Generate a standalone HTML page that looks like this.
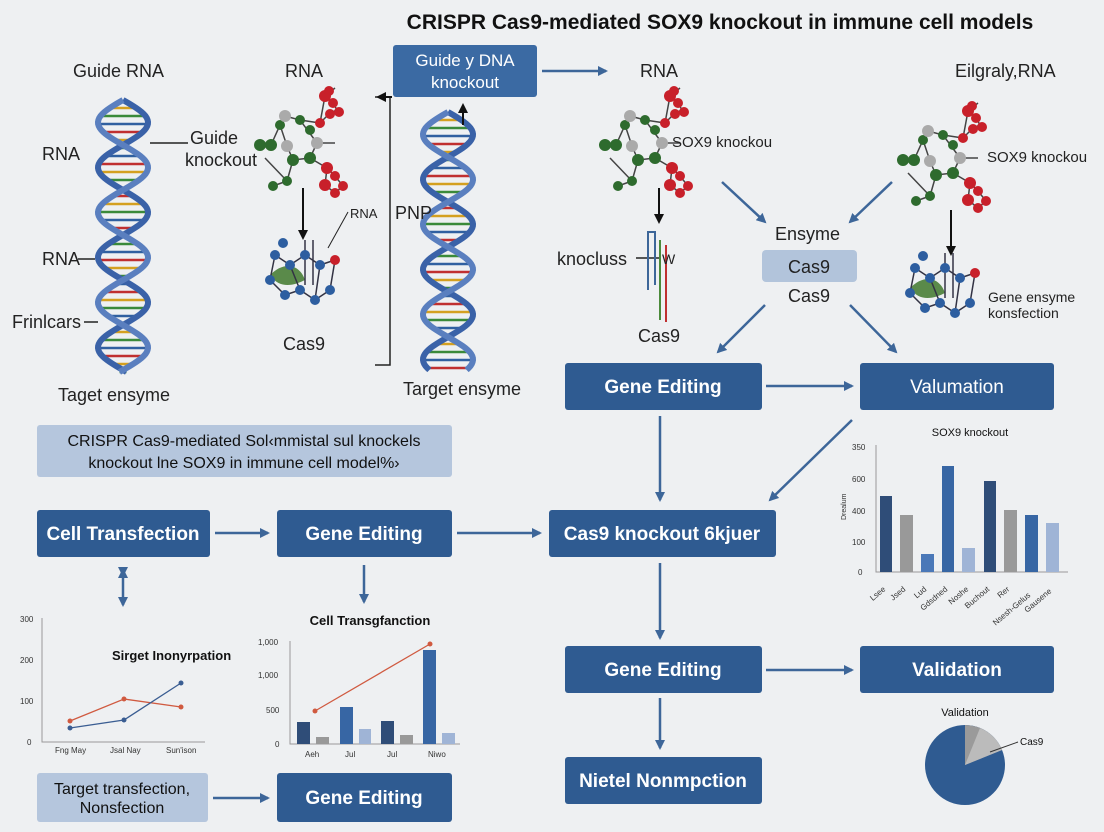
<!DOCTYPE html>
<html><head><meta charset="utf-8"><style>
html,body{margin:0;padding:0;background:#eef0f2;}
svg{display:block;font-family:"Liberation Sans",sans-serif;}
.bx{fill:#2f5b91;}
.bt{fill:#fff;font-weight:bold;font-size:19px;text-anchor:middle;}
.t{fill:#222;font-size:18px;}
.ar{stroke:#3d6699;stroke-width:2.5;fill:none;marker-end:url(#ah);}
.ak{stroke:#111;stroke-width:2;fill:none;marker-end:url(#ak);}
.sm{font-size:8px;fill:#333;}
</style></head><body>
<svg width="1104" height="832" viewBox="0 0 1104 832" xmlns="http://www.w3.org/2000/svg">
<defs>
<marker id="ah" markerWidth="10" markerHeight="10" refX="8" refY="5" orient="auto" markerUnits="userSpaceOnUse"><path d="M0,0 L10,5 L0,10 z" fill="#3d6699"/></marker>
<marker id="ak" markerWidth="10" markerHeight="10" refX="8" refY="5" orient="auto" markerUnits="userSpaceOnUse"><path d="M0,0 L10,5 L0,10 z" fill="#111"/></marker>
<g id="mol">
<g stroke="#444" stroke-width="1.5" fill="none">
<path d="M-25,57 L-14,57 L-5,37 L0,28 L15,32 L32,55 L25,70 L8,72 L2,58 L-5,37"/>
<path d="M8,72 L2,93 L-12,98 M-20,70 L2,93 M15,32 L35,35 L40,8 L48,15 L52,22 L45,25 L35,35 M25,70 L42,80 L50,88 L58,98 L50,105 L40,97 L42,80 M32,55 L50,55 M50,0 L40,8"/>
</g>
<g fill="#2e6b2e"><circle cx="-25" cy="57" r="6"/><circle cx="-14" cy="57" r="6"/><circle cx="-5" cy="37" r="5"/><circle cx="15" cy="32" r="5"/><circle cx="8" cy="72" r="6"/><circle cx="2" cy="93" r="5"/><circle cx="-12" cy="98" r="5"/><circle cx="25" cy="70" r="6"/><circle cx="25" cy="42" r="5"/></g>
<g fill="#aaa"><circle cx="0" cy="28" r="6"/><circle cx="2" cy="58" r="6"/><circle cx="32" cy="55" r="6"/></g>
<g fill="#c8202a"><circle cx="40" cy="8" r="6"/><circle cx="48" cy="15" r="5"/><circle cx="45" cy="26" r="5"/><circle cx="54" cy="24" r="5"/><circle cx="35" cy="35" r="5"/><circle cx="42" cy="80" r="6"/><circle cx="50" cy="88" r="5"/><circle cx="58" cy="98" r="5"/><circle cx="40" cy="97" r="6"/><circle cx="50" cy="105" r="5"/><circle cx="44" cy="3" r="5"/></g>
</g>
<g id="prot">
<path d="M-25,20 C-10,5 5,10 10,25 C0,30 -15,35 -25,20z" fill="#5a8a4a"/>
<g stroke="#334" stroke-width="1.5" fill="none"><path d="M-20,0 L-5,10 L10,0 L25,10 L40,5 M-20,0 L-25,25 L-10,40 L5,35 L20,45 L35,35 L40,5 M-5,10 L5,35 M25,10 L20,45 M10,-15 L10,30 M18,-15 L18,30"/></g>
<g fill="#2d5ea0"><circle cx="-20" cy="0" r="5"/><circle cx="-5" cy="10" r="5"/><circle cx="10" cy="0" r="5"/><circle cx="25" cy="10" r="5"/><circle cx="-25" cy="25" r="5"/><circle cx="-10" cy="40" r="5"/><circle cx="5" cy="35" r="5"/><circle cx="20" cy="45" r="5"/><circle cx="35" cy="35" r="5"/><circle cx="-12" cy="-12" r="5"/></g>
<circle cx="40" cy="5" r="5" fill="#c8202a"/>
</g>
</defs>

<text x="720" y="29" font-size="21" font-weight="bold" text-anchor="middle" fill="#111">CRISPR Cas9-mediated SOX9 knockout in immune cell models</text>

<rect x="393" y="45" width="144" height="52" rx="3" fill="#3b6aa3"/>
<text x="465" y="66" class="bt" style="font-weight:normal;font-size:17px">Guide y DNA</text>
<text x="465" y="88" class="bt" style="font-weight:normal;font-size:17px">knockout</text>
<path class="ar" d="M542,71 L606,71"/>

<text x="73" y="77" class="t">Guide RNA</text>
<text x="285" y="77" class="t">RNA</text>
<text x="640" y="77" class="t">RNA</text>
<text x="955" y="77" class="t">Eilgraly,RNA</text>

<g id="helixL"></g>
<g id="helixM"></g>

<text x="42" y="160" class="t">RNA</text>
<path d="M150,143 L188,143" stroke="#222" stroke-width="1.5"/>
<text x="190" y="144" class="t">Guide</text>
<text x="185" y="166" class="t">knockout</text>
<text x="42" y="265" class="t">RNA</text><path d="M78,259 L95,259" stroke="#222" stroke-width="1.5"/>
<text x="12" y="328" class="t">Frinlcars</text><path d="M84,322 L98,322" stroke="#222" stroke-width="1.5"/>
<text x="58" y="401" class="t">Taget ensyme</text>
<text x="283" y="350" class="t">Cas9</text>
<text x="350" y="218" font-size="13" fill="#222">RNA</text>
<path d="M348,212 L328,248" stroke="#222" stroke-width="1"/>
<text x="395" y="219" class="t">PNP</text>
<text x="403" y="395" class="t">Target ensyme</text>
<path d="M375,97 L390,97 L390,365 L375,365" stroke="#222" stroke-width="1.5" fill="none"/>
<path class="ak" d="M392,97 L378,97"/>
<path class="ak" d="M463,125 L463,105"/>

<use href="#mol" x="285" y="88"/>
<path class="ak" d="M303,188 L303,238"/>
<use href="#prot" x="295" y="255"/>

<use href="#mol" x="630" y="88"/>
<text x="672" y="147" font-size="15" fill="#222">SOX9 knockou</text>
<path class="ak" d="M659,188 L659,222"/>
<text x="557" y="265" class="t">knocluss</text>
<path d="M636,258 L660,258" stroke="#222" stroke-width="1.5"/>
<path d="M648,290 L648,232 L655,232 L655,285" stroke="#3d6699" stroke-width="2" fill="none"/>
<path d="M660,240 L660,320" stroke="#4a8a3a" stroke-width="2"/>
<path d="M666,245 L666,322" stroke="#c03030" stroke-width="2"/>
<text x="662" y="264" font-size="14" fill="#222">W</text>
<text x="638" y="342" class="t">Cas9</text>

<use href="#mol" x="928" y="103"/>
<text x="987" y="162" font-size="15" fill="#222">SOX9 knockou</text>
<path class="ak" d="M951,210 L951,254"/>
<use href="#prot" x="935" y="268"/>
<text x="988" y="302" font-size="14" fill="#222">Gene ensyme</text>
<text x="988" y="318" font-size="14" fill="#222">konsfection</text>

<path class="ar" d="M722,182 L765,222"/>
<path class="ar" d="M892,182 L850,222"/>
<text x="775" y="240" class="t">Ensyme</text>
<rect x="762" y="250" width="95" height="32" rx="4" fill="#b2c4db"/>
<text x="809" y="273" font-size="18" fill="#222" text-anchor="middle">Cas9</text>
<text x="788" y="302" class="t">Cas9</text>
<path class="ar" d="M765,305 L718,352"/>
<path class="ar" d="M850,305 L896,352"/>

<rect x="565" y="363" width="197" height="47" rx="3" class="bx"/><text x="663" y="393" class="bt">Gene Editing</text>
<rect x="860" y="363" width="194" height="47" rx="3" class="bx"/><text x="957" y="393" class="bt" style="font-weight:normal">Valumation</text>
<path class="ar" d="M766,386 L852,386"/>

<rect x="37" y="425" width="415" height="52" rx="3" fill="#b5c6dd"/>
<text x="244" y="446" font-size="16" fill="#111" text-anchor="middle">CRISPR Cas9-mediated Sol‹mmistal sul knockels</text>
<text x="244" y="468" font-size="16" fill="#111" text-anchor="middle">knockout lne SOX9 in immune cell model%›</text>

<rect x="37" y="510" width="173" height="47" rx="3" class="bx"/><text x="123" y="540" class="bt">Cell Transfection</text>
<rect x="277" y="510" width="175" height="47" rx="3" class="bx"/><text x="364" y="540" class="bt">Gene Editing</text>
<rect x="549" y="510" width="227" height="47" rx="3" class="bx"/><text x="662" y="540" class="bt">Cas9 knockout 6kjuer</text>
<path class="ar" d="M215,533 L268,533"/>
<path class="ar" d="M457,533 L540,533"/>
<path class="ar" d="M660,416 L660,500"/>
<path class="ar" d="M852,420 L770,500"/>
<path d="M123,575 L123,605" stroke="#3d6699" stroke-width="2.5" marker-end="url(#ah)" marker-start="url(#ah)"/>
<path d="M123,575 L123,570" class="ar"/>
<path class="ar" d="M364,565 L364,602"/>
<path class="ar" d="M660,563 L660,638"/>

<rect x="565" y="646" width="197" height="47" rx="3" class="bx"/><text x="663" y="676" class="bt">Gene Editing</text>
<rect x="860" y="646" width="194" height="47" rx="3" class="bx"/><text x="957" y="676" class="bt">Validation</text>
<path class="ar" d="M766,670 L852,670"/>
<path class="ar" d="M660,698 L660,748"/>
<rect x="565" y="757" width="197" height="47" rx="3" class="bx"/><text x="663" y="787" class="bt">Nietel Nonmpction</text>

<rect x="37" y="773" width="171" height="49" rx="3" fill="#b5c6dd"/>
<text x="122" y="794" font-size="16" fill="#111" text-anchor="middle">Target transfection,</text>
<text x="122" y="813" font-size="16" fill="#111" text-anchor="middle">Nonsfection</text>
<path class="ar" d="M213,798 L268,798"/>
<rect x="277" y="773" width="175" height="49" rx="3" class="bx"/><text x="364" y="804" class="bt">Gene Editing</text>

<text x="970" y="436" font-size="11" text-anchor="middle" fill="#111">SOX9 knockout</text>
<path d="M876,445 L876,572 L1068,572" stroke="#999" fill="none"/>
<g class="sm"><text x="852" y="450">350</text><text x="852" y="482">600</text><text x="852" y="514">400</text><text x="852" y="545">100</text><text x="858" y="575">0</text></g>
<text x="846" y="520" font-size="7" transform="rotate(-90 846 520)" fill="#333">Drealum</text>
<g>
<rect x="880" y="496" width="12" height="76" fill="#2f4d78"/>
<rect x="900" y="515" width="13" height="57" fill="#999"/>
<rect x="921" y="554" width="13" height="18" fill="#4a78b8"/>
<rect x="942" y="466" width="12" height="106" fill="#3766a4"/>
<rect x="962" y="548" width="13" height="24" fill="#9fb4d6"/>
<rect x="984" y="481" width="12" height="91" fill="#2f4d78"/>
<rect x="1004" y="510" width="13" height="62" fill="#999"/>
<rect x="1025" y="515" width="13" height="57" fill="#3766a4"/>
<rect x="1046" y="523" width="13" height="49" fill="#9fb4d6"/>
</g>
<g class="sm" font-size="7">
<text x="886" y="590" transform="rotate(-40 886 590)" text-anchor="end">Lsee</text>
<text x="906" y="590" transform="rotate(-40 906 590)" text-anchor="end">Jsed</text>
<text x="927" y="590" transform="rotate(-40 927 590)" text-anchor="end">Lud</text>
<text x="948" y="590" transform="rotate(-40 948 590)" text-anchor="end">Gdsdned</text>
<text x="969" y="590" transform="rotate(-40 969 590)" text-anchor="end">Noshe</text>
<text x="990" y="590" transform="rotate(-40 990 590)" text-anchor="end">Buchout</text>
<text x="1010" y="590" transform="rotate(-40 1010 590)" text-anchor="end">Rer</text>
<text x="1031" y="596" transform="rotate(-40 1031 596)" text-anchor="end">Nsesh-Gelus</text>
<text x="1052" y="592" transform="rotate(-40 1052 592)" text-anchor="end">Gausene</text>
</g>

<g class="sm"><text x="20" y="622">300</text><text x="20" y="663">200</text><text x="20" y="704">100</text><text x="27" y="745">0</text></g>
<path d="M42,618 L42,742 L205,742" stroke="#999" fill="none"/>
<text x="112" y="660" font-size="13" font-weight="bold" fill="#111">Sirget Inonyrpation</text>
<path d="M70,721 L124,699 L181,707" stroke="#d05a40" stroke-width="1.3" fill="none"/>
<path d="M70,728 L124,720 L181,683" stroke="#3a5d92" stroke-width="1.3" fill="none"/>
<g fill="#d05a40"><circle cx="70" cy="721" r="2.5"/><circle cx="124" cy="699" r="2.5"/><circle cx="181" cy="707" r="2.5"/></g>
<g fill="#3a5d92"><circle cx="70" cy="728" r="2.5"/><circle cx="124" cy="720" r="2.5"/><circle cx="181" cy="683" r="2.5"/></g>
<g class="sm"><text x="55" y="753">Fng May</text><text x="110" y="753">Jsal Nay</text><text x="166" y="753">Sun'ison</text></g>

<text x="370" y="625" font-size="13" font-weight="bold" text-anchor="middle" fill="#111">Cell Transgfanction</text>
<g class="sm"><text x="258" y="645">1,000</text><text x="258" y="678">1,000</text><text x="266" y="713">500</text><text x="275" y="747">0</text></g>
<path d="M290,641 L290,744 L460,744" stroke="#999" fill="none"/>
<rect x="297" y="722" width="13" height="22" fill="#2f4d78"/><rect x="316" y="737" width="13" height="7" fill="#999"/>
<rect x="340" y="707" width="13" height="37" fill="#3766a4"/><rect x="359" y="729" width="12" height="15" fill="#9fb4d6"/>
<rect x="381" y="721" width="13" height="23" fill="#2f4d78"/><rect x="400" y="735" width="13" height="9" fill="#999"/>
<rect x="423" y="650" width="13" height="94" fill="#3766a4"/><rect x="442" y="733" width="13" height="11" fill="#9fb4d6"/>
<path d="M315,711 L430,644" stroke="#d05a40" stroke-width="1.3"/>
<circle cx="315" cy="711" r="2.5" fill="#d05a40"/><circle cx="430" cy="644" r="2.5" fill="#d05a40"/>
<g class="sm"><text x="305" y="757">Aeh</text><text x="345" y="757">Jul</text><text x="387" y="757">Jul</text><text x="428" y="757">Niwo</text></g>

<text x="965" y="716" font-size="11" text-anchor="middle" fill="#111">Validation</text>
<circle cx="965" cy="765" r="40" fill="#2f5b91"/>
<path d="M965,765 L965,725 A40,40 0 0,1 1002,750 z" fill="#9a9a9a"/>
<path d="M965,765 L980,728 A40,40 0 0,1 1002,750 z" fill="#bbb"/>
<path d="M990,752 L1018,742" stroke="#333"/>
<text x="1020" y="745" font-size="10" fill="#111">Cas9</text>
</svg>
<script>
function helix(id,x,y0,y1,w){
 var g=document.getElementById(id),s="",a="",b="";
 var cols=["#c03030","#d4a020","#3a8a3a","#3060a0"];
 var n=0;
 for(var y=y0;y<=y1;y+=2){
  var p=(y-y0)/45*Math.PI;
  var xa=x+w/2*Math.sin(p),xb=x-w/2*Math.sin(p);
  a+=(y==y0?"M":"L")+xa.toFixed(1)+","+y;
  b+=(y==y0?"M":"L")+xb.toFixed(1)+","+y;
  if((y-y0)%8==0){s+='<line x1="'+xa.toFixed(1)+'" y1="'+y+'" x2="'+xb.toFixed(1)+'" y2="'+y+'" stroke="'+cols[n%4]+'" stroke-width="2.5"/>';n++;}
 }
 s+='<path d="'+a+'" stroke="#3a62a8" stroke-width="6" fill="none"/><path d="'+b+'" stroke="#5a7fbf" stroke-width="6" fill="none"/>';
 g.innerHTML=s;
}
helix("helixL",123,100,372,50);
helix("helixM",448,112,370,50);
</script>
</body></html>
